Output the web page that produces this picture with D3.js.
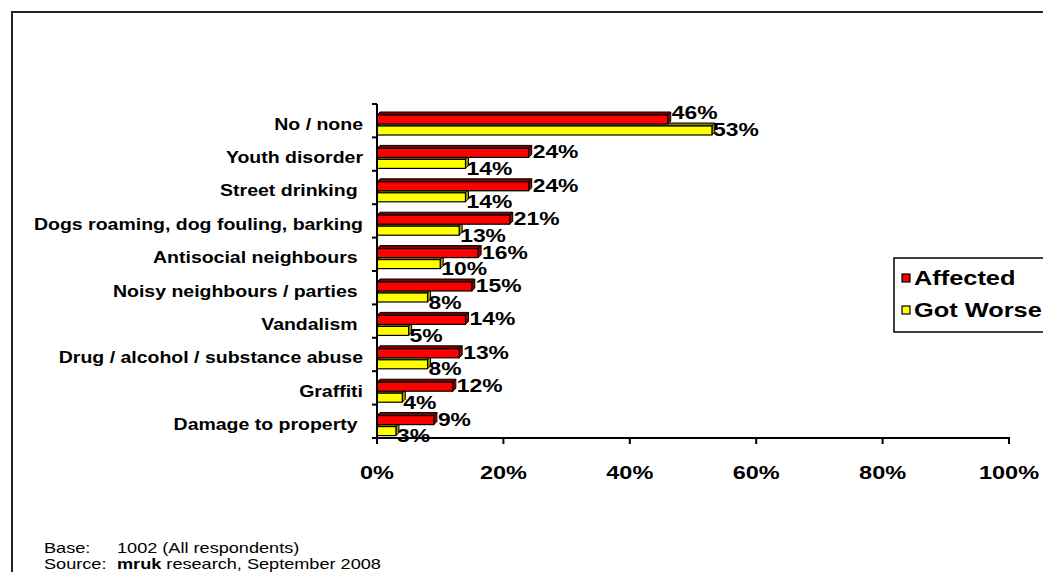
<!DOCTYPE html>
<html>
<head>
<meta charset="utf-8">
<script src="https://cdn.jsdelivr.net/npm/d3@7"></script>
<style>
  html, body { margin: 0; padding: 0; background: #fff; }
  svg { display: block; font-family: "Liberation Sans", Arial, sans-serif; }
  text { white-space: pre; }
</style>
</head>
<body>
<svg id="chart" width="1043" height="572"></svg>
<script>
// Problems in the local area: share affected, and share saying it got worse
const categories = [
  "No / none",
  "Youth disorder",
  "Street drinking ",
  "Dogs roaming, dog fouling, barking",
  "Antisocial neighbours ",
  "Noisy neighbours / parties ",
  "Vandalism ",
  "Drug / alcohol / substance abuse",
  "Graffiti",
  "Damage to property "
];
const affected  = [46, 24, 24, 21, 16, 15, 14, 13, 12, 9];
const gotWorse  = [53, 14, 14, 13, 10, 8, 5, 8, 4, 3];
const seriesNames = ["Affected", "Got Worse"];
const xTicks = [0, 20, 40, 60, 80, 100];

const colors = {
  Affected:    { front: "#ff0000", top: "#800000", side: "#a00000" },
  "Got Worse": { front: "#ffff00", top: "#808000", side: "#a0a000" }
};

const SX = 1.25;     // horizontal stretch of all lettering
const DEPTH = 3;     // 3-D bar depth

const svg = d3.select("#chart");

// outer frame
svg.append("path")
  .attr("d", "M12,572 V12 H1043")
  .attr("fill", "none").attr("stroke", "#222").attr("stroke-width", 2);

const x = d3.scaleLinear().domain([0, 100]).range([377, 1009]);
const y = d3.scaleBand().domain(categories).range([104, 438]).paddingInner(0).paddingOuter(0);

const rows = categories.map((c, i) => ({ c, a: affected[i], w: gotWorse[i] }));

function bar3d(g, v, top, h, col) {
  const x0 = x(0), x1 = x(v), d = DEPTH;
  g.append("polygon")
    .attr("points", [[x0, top], [x0 + d, top - d], [x1 + d, top - d], [x1, top]].join(" "))
    .attr("fill", col.top).attr("stroke", "#000").attr("stroke-width", 1);
  g.append("polygon")
    .attr("points", [[x1, top], [x1 + d, top - d], [x1 + d, top + h - d], [x1, top + h]].join(" "))
    .attr("fill", col.side).attr("stroke", "#000").attr("stroke-width", 1);
  g.append("rect")
    .attr("x", x0).attr("y", top).attr("width", x1 - x0).attr("height", h)
    .attr("fill", col.front).attr("stroke", "#000").attr("stroke-width", 1.2);
}

function label(g, tx, ty, str, size, weight, anchor) {
  return g.append("text")
    .attr("transform", `translate(${tx},${ty}) scale(${SX},1)`)
    .attr("text-anchor", anchor || "start")
    .attr("font-size", size).attr("font-weight", weight || "bold")
    .attr("fill", "#000")
    .text(str);
}

const plot = svg.append("g");

rows.forEach(r => {
  const b = y(r.c);
  const g = plot.append("g");
  // got worse (lower) first so the affected bar sits in front of its top face
  bar3d(g, r.w, b + 22, 9, colors["Got Worse"]);
  bar3d(g, r.a, b + 11, 9, colors["Affected"]);
});

// y axis
const yAxisG = svg.append("g");
yAxisG.append("line").attr("x1", 377).attr("x2", 377).attr("y1", 104).attr("y2", 438)
  .attr("stroke", "#000").attr("stroke-width", 2);
const bounds = categories.map(c => y(c)).concat([y.range()[1]]);
yAxisG.selectAll("line.tick").data(bounds).join("line")
  .attr("class", "tick")
  .attr("x1", 372).attr("x2", 377).attr("y1", d => d).attr("y2", d => d)
  .attr("stroke", "#000").attr("stroke-width", 2);

// x axis
const xAxisG = svg.append("g");
xAxisG.append("line").attr("x1", 376).attr("x2", 1010).attr("y1", 438).attr("y2", 438)
  .attr("stroke", "#000").attr("stroke-width", 2);
xAxisG.selectAll("line.tick").data(xTicks).join("line")
  .attr("class", "tick")
  .attr("x1", d => x(d)).attr("x2", d => x(d)).attr("y1", 438).attr("y2", 444)
  .attr("stroke", "#000").attr("stroke-width", 2);
xTicks.forEach(t => label(svg, x(t), 479, t + "%", 18.8, "bold", "middle"));

// category labels
rows.forEach(r => label(svg, 363, y(r.c) + 25.5, r.c, 15.6, "bold", "end"));

// value labels
rows.forEach(r => {
  const b = y(r.c);
  const lift = r.w > r.a ? -6 : 0;
  label(svg, x(r.a) + 4, b + 21 + lift, r.a + "%", 18.3, "bold", "start");
  label(svg, x(r.w) + 1, b + 37.5 + lift, r.w + "%", 18.3, "bold", "start");
});

// legend
const leg = svg.append("g");
leg.append("rect").attr("x", 894).attr("y", 258).attr("width", 160).attr("height", 74)
  .attr("fill", "#fff").attr("stroke", "#000").attr("stroke-width", 1.5);
seriesNames.forEach((s, i) => {
  const cy = 278 + i * 32;
  leg.append("rect").attr("x", 902).attr("y", cy - 4).attr("width", 8).attr("height", 8)
    .attr("fill", colors[s].front).attr("stroke", "#000").attr("stroke-width", 1.2);
  label(leg, 914, cy + 7, s, 20.3, "bold", "start");
});

// footnote
const foot = svg.append("g");
label(foot, 44, 553, "Base:", 14.5, "normal");
label(foot, 117, 553, "1002 (All respondents)", 14.5, "normal");
label(foot, 44, 569, "Source:", 14.5, "normal");
const src = foot.append("text")
  .attr("transform", `translate(117,569) scale(${SX},1)`)
  .attr("font-size", 14.5).attr("fill", "#000");
src.append("tspan").attr("font-weight", "bold").text("mruk");
src.append("tspan").text(" research, September 2008");
</script>
</body>
</html>
